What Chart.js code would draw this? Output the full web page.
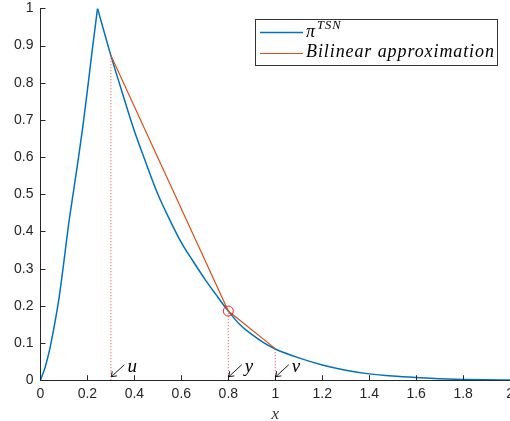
<!DOCTYPE html>
<html>
<head>
<meta charset="utf-8">
<script src="https://cdn.jsdelivr.net/npm/chart.js@4.4.0/dist/chart.umd.min.js"></script>
<style>
  html, body { margin: 0; padding: 0; background: #fff; overflow: hidden; }
  #wrap { position: absolute; left: 0; top: -7px; width: 520px; height: 432px; }
</style>
</head>
<body>
<div id="wrap"><canvas id="chart"></canvas></div>
<script>
// Curva pi^TSN: tramo ascendente y tramo descendente
const riseX = [0, 0.02, 0.04, 0.06, 0.08, 0.10, 0.12, 0.14, 0.16, 0.18, 0.20, 0.22, 0.243];
const riseY = [0, 0.035, 0.085, 0.15, 0.225, 0.32, 0.42, 0.505, 0.59, 0.68, 0.78, 0.885, 1.0];
const fallX = [0.243, 0.30, 0.35, 0.40, 0.45, 0.50, 0.55, 0.60, 0.65, 0.70, 0.75, 0.80, 0.85, 0.90, 0.95, 1.0, 1.1, 1.2, 1.3, 1.4, 1.5, 1.6, 1.7, 1.8, 1.9, 2.0];
const fallY = [1.0, 0.873, 0.77, 0.67, 0.583, 0.50, 0.432, 0.37, 0.32, 0.272, 0.228, 0.186, 0.149, 0.123, 0.101, 0.084, 0.060, 0.041, 0.027, 0.017, 0.011, 0.007, 0.004, 0.002, 0.001, 0.0005];

// Aproximación bilineal u -> y -> v
const approxX = [0.3, 0.8, 1.0];
const approxY = [0.873, 0.186, 0.085];
const markLabels = ['u', 'y', 'v'];

// Ticks
const xTicks = [0, 0.2, 0.4, 0.6, 0.8, 1, 1.2, 1.4, 1.6, 1.8, 2];
const yTicks = [0, 0.1, 0.2, 0.3, 0.4, 0.5, 0.6, 0.7, 0.8, 0.9, 1];

const BLUE = '#0072BD';
const ORANGE = '#D95319';
const AXIS = '#262626';

const toPts = (xs, ys) => xs.map((x, i) => ({ x: x, y: ys[i] }));

// Líneas verticales punteadas desde el eje hasta cada punto de la aproximación
const dotted = approxX.map((x, i) => ({
  data: [{ x: x, y: 0 }, { x: x, y: approxY[i] }],
  borderColor: '#ff4040',
  borderWidth: 1,
  borderDash: [1, 2],
  pointRadius: 0,
  order: 5
}));

// Ticks hacia dentro, estilo MATLAB
const inwardTicks = {
  id: 'inwardTicks',
  afterDatasetsDraw(chart) {
    const { ctx, chartArea, scales: { x, y } } = chart;
    ctx.save();
    ctx.strokeStyle = AXIS;
    ctx.lineWidth = 1;
    ctx.beginPath();
    xTicks.forEach(v => {
      const px = Math.round(x.getPixelForValue(v)) + 0.5;
      ctx.moveTo(px, chartArea.bottom);
      ctx.lineTo(px, chartArea.bottom - 5);
    });
    yTicks.forEach(v => {
      const py = Math.round(y.getPixelForValue(v)) + 0.5;
      ctx.moveTo(chartArea.left, py);
      ctx.lineTo(chartArea.left + 5, py);
    });
    ctx.stroke();
    ctx.restore();
  }
};

// Flechas con etiquetas u, y, v sobre el eje x
const arrowLabels = {
  id: 'arrowLabels',
  afterDatasetsDraw(chart) {
    const { ctx, scales: { x, y } } = chart;
    ctx.save();
    ctx.strokeStyle = '#000';
    ctx.fillStyle = '#000';
    ctx.lineWidth = 0.9;
    ctx.font = 'italic 19px "Liberation Serif"';
    ctx.textBaseline = 'alphabetic';
    approxX.forEach((v, i) => {
      const tx = x.getPixelForValue(v) + 0.5;
      const ty = y.getPixelForValue(0) - 3.5;
      ctx.beginPath();
      ctx.moveTo(tx + 13, ty - 12);
      ctx.lineTo(tx, ty);
      ctx.moveTo(tx, ty);
      ctx.lineTo(tx + 5.5, ty - 0.8);
      ctx.moveTo(tx, ty);
      ctx.lineTo(tx + 0.8, ty - 5.5);
      ctx.stroke();
      ctx.fillText(markLabels[i], tx + 16, ty - 4.5);
    });
    ctx.restore();
  }
};

// Leyenda con superíndice (coordenadas de la página; el lienzo está desplazado 7px)
const legendBox = {
  id: 'legendBox',
  afterDraw(chart) {
    const ctx = chart.ctx;
    ctx.save();
    ctx.translate(0, 7);
    ctx.fillStyle = '#fff';
    ctx.fillRect(255.5, 19.5, 242, 46);
    ctx.strokeStyle = '#333';
    ctx.lineWidth = 1;
    ctx.strokeRect(255.5, 19.5, 242, 46);

    ctx.lineWidth = 1.5;
    ctx.strokeStyle = BLUE;
    ctx.beginPath(); ctx.moveTo(260, 32.5); ctx.lineTo(303, 32.5); ctx.stroke();
    ctx.lineWidth = 1.2;
    ctx.strokeStyle = ORANGE;
    ctx.beginPath(); ctx.moveTo(260, 53.5); ctx.lineTo(303, 53.5); ctx.stroke();

    ctx.fillStyle = '#000';
    ctx.textBaseline = 'alphabetic';
    ctx.font = 'italic 18px "Liberation Serif"';
    ctx.fillText('π', 306, 37);
    ctx.font = 'italic 12.5px "Liberation Serif"';
    if ('letterSpacing' in ctx) ctx.letterSpacing = '1px';
    ctx.fillText('TSN', 317, 29);

    ctx.font = 'italic 18px "Liberation Serif"';
    const txt = 'Bilinear approximation';
    if ('letterSpacing' in ctx) {
      ctx.letterSpacing = '0px';
      const w = ctx.measureText(txt).width;
      ctx.letterSpacing = ((188 - w) / (txt.length - 1)).toFixed(2) + 'px';
    }
    ctx.fillText(txt, 306, 57);
    ctx.restore();
  }
};

const fmt = v => String(+Number(v).toFixed(1));

new Chart(document.getElementById('chart'), {
  type: 'line',
  data: {
    datasets: [
      {
        label: 'pi TSN',
        data: toPts(riseX, riseY),
        borderColor: BLUE,
        borderWidth: 1.5,
        pointRadius: 0,
        cubicInterpolationMode: 'monotone',
        order: 2
      },
      {
        label: 'pi TSN (cola)',
        data: toPts(fallX, fallY),
        borderColor: BLUE,
        borderWidth: 1.5,
        pointRadius: 0,
        cubicInterpolationMode: 'monotone',
        order: 2
      },
      {
        label: 'Bilinear approximation',
        data: toPts(approxX, approxY),
        borderColor: ORANGE,
        borderWidth: 1.2,
        pointRadius: 0,
        tension: 0,
        order: 1
      },
      {
        label: 'y',
        data: [{ x: approxX[1], y: approxY[1] }],
        showLine: false,
        pointStyle: 'circle',
        pointRadius: 5,
        pointBorderWidth: 1,
        pointBorderColor: '#ff2020',
        pointBackgroundColor: 'rgba(0,0,0,0)',
        order: 0
      },
      ...dotted
    ]
  },
  options: {
    responsive: true,
    maintainAspectRatio: false,
    animation: false,
    layout: { padding: { left: 7, top: 0, right: 0, bottom: 0 } },
    plugins: {
      legend: { display: false },
      tooltip: { enabled: false }
    },
    scales: {
      x: {
        type: 'linear',
        min: 0,
        max: 2,
        afterBuildTicks: s => { s.ticks = xTicks.map(v => ({ value: v })); },
        grid: { display: false, drawTicks: false },
        border: { display: true, color: AXIS, width: 1 },
        ticks: {
          color: AXIS,
          padding: 6,
          maxRotation: 0,
          font: { family: '"Liberation Sans", Arial', size: 14 },
          callback: fmt
        },
        title: {
          display: true,
          text: 'x',
          color: '#333',
          font: { family: '"Liberation Serif"', size: 17, style: 'italic', lineHeight: 1 },
          padding: { top: -3, bottom: 2 }
        }
      },
      y: {
        type: 'linear',
        min: 0,
        max: 1,
        afterBuildTicks: s => { s.ticks = yTicks.map(v => ({ value: v })); },
        grid: { display: false, drawTicks: false },
        border: { display: true, color: AXIS, width: 1 },
        ticks: {
          color: AXIS,
          padding: 7,
          font: { family: '"Liberation Sans", Arial', size: 14 },
          callback: fmt
        }
      }
    }
  },
  plugins: [inwardTicks, arrowLabels, legendBox]
});
</script>
</body>
</html>
